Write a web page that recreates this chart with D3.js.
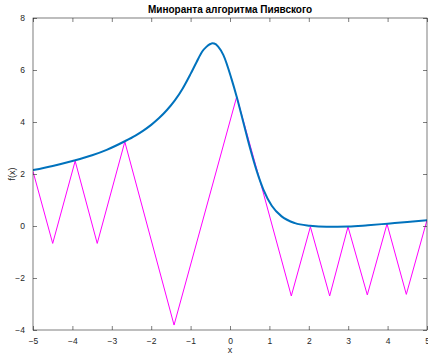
<!DOCTYPE html>
<html>
<head>
<meta charset="utf-8">
<script src="https://cdn.jsdelivr.net/npm/d3@7"></script>
<style>
  body { margin: 0; background: #fff; }
  svg { font-family: Helvetica, "Liberation Sans", Arial, sans-serif; }
</style>
</head>
<body>
<div id="chart"></div>
<script>
// function f(x)
const curveX = [-5, -4.5, -4, -3.5, -3.13, -2.67, -2.4, -2.2, -2.0, -1.8, -1.6, -1.4, -1.2, -1.0, -0.85, -0.7, -0.6, -0.5, -0.45, -0.4, -0.3, -0.17, 0.04, 0.17, 0.34, 0.51, 0.68, 0.845, 1.06, 1.31, 1.65, 2.03, 2.45, 3.0, 3.5, 4.0, 4.5, 5.0];
const curveY = [2.15, 2.31, 2.5, 2.72, 2.93, 3.26, 3.48, 3.67, 3.89, 4.15, 4.46, 4.83, 5.29, 5.85, 6.3, 6.72, 6.89, 7.0, 7.03, 7.02, 6.9, 6.58, 5.65, 4.97, 3.98, 2.99, 2.11, 1.41, 0.78, 0.37, 0.11, 0.01, -0.03, -0.02, 0.03, 0.09, 0.15, 0.22];

// Piyavsky minorant vertices
const minorX = [-5, -4.5, -3.93, -3.37, -2.67, -1.42, 0.17, 0.76, 1.556, 2.04, 2.53, 2.995, 3.485, 3.985, 4.475, 5];
const minorY = [2.1, -0.67, 2.5, -0.67, 3.24, -3.81, 4.97, 1.75, -2.69, -0.03, -2.69, -0.03, -2.65, 0.08, -2.63, 0.23];

const xTicks = [-5, -4, -3, -2, -1, 0, 1, 2, 3, 4, 5];
const yTicks = [-4, -2, 0, 2, 4, 6, 8];

const W = 428, H = 355;
const margin = {top: 18, right: 1, bottom: 25, left: 33};
const width = W - margin.left - margin.right;
const height = H - margin.top - margin.bottom;
const axisColor = "#262626";

const svg = d3.select("#chart").append("svg")
    .attr("width", W)
    .attr("height", H);

const g = svg.append("g")
    .attr("transform", "translate(" + margin.left + "," + margin.top + ")");

const x = d3.scaleLinear().domain([-5, 5]).range([0, width]);
const y = d3.scaleLinear().domain([-4, 8]).range([height, 0]);

// clip to plot area
svg.append("defs").append("clipPath").attr("id", "clip")
    .append("rect").attr("x", 0).attr("y", 0).attr("width", width).attr("height", height);

const plot = g.append("g").attr("clip-path", "url(#clip)");

// minorant
const minorData = minorX.map((d, i) => [d, minorY[i]]);
plot.append("path")
    .datum(minorData)
    .attr("fill", "none")
    .attr("stroke", "#ff00ff")
    .attr("stroke-width", 1)
    .attr("d", d3.line().x(d => x(d[0])).y(d => y(d[1])));

// function curve
const curveData = curveX.map((d, i) => [d, curveY[i]]);
plot.append("path")
    .datum(curveData)
    .attr("fill", "none")
    .attr("stroke", "#0072bd")
    .attr("stroke-width", 2)
    .attr("d", d3.line().curve(d3.curveMonotoneX).x(d => x(d[0])).y(d => y(d[1])));

// axes: ticks inward, box on
function styleAxis(sel) {
    sel.select(".domain").remove();
    sel.selectAll(".tick line").attr("stroke", axisColor).attr("stroke-width", 0.6);
    sel.selectAll(".tick text").attr("fill", axisColor).attr("font-size", 8.5);
}

g.append("g")
    .attr("transform", "translate(0," + height + ")")
    .call(d3.axisBottom(x).tickValues(xTicks).tickSizeInner(-4).tickPadding(8).tickFormat(d3.format("d")))
    .call(styleAxis);
g.append("g")
    .call(d3.axisTop(x).tickValues(xTicks).tickSizeInner(-4).tickFormat(""))
    .call(styleAxis);
g.append("g")
    .call(d3.axisLeft(y).tickValues(yTicks).tickSizeInner(-4).tickPadding(8).tickFormat(d3.format("d")))
    .call(styleAxis);
g.append("g")
    .attr("transform", "translate(" + width + ",0)")
    .call(d3.axisRight(y).tickValues(yTicks).tickSizeInner(-4).tickFormat(""))
    .call(styleAxis);

g.append("rect")
    .attr("width", width)
    .attr("height", height)
    .attr("fill", "none")
    .attr("stroke", axisColor)
    .attr("stroke-width", 0.6);

// labels
svg.append("text")
    .attr("x", margin.left + width / 2)
    .attr("y", 13)
    .attr("text-anchor", "middle")
    .attr("font-size", 10)
    .attr("font-weight", "bold")
    .attr("fill", "#000")
    .text("Миноранта алгоритма Пиявского");

svg.append("text")
    .attr("x", margin.left + width / 2)
    .attr("y", 353)
    .attr("text-anchor", "middle")
    .attr("font-size", 9)
    .attr("fill", axisColor)
    .text("x");

svg.append("text")
    .attr("transform", "translate(15," + (margin.top + height / 2) + ") rotate(-90)")
    .attr("text-anchor", "middle")
    .attr("font-size", 9)
    .attr("fill", axisColor)
    .text("f(x)");
</script>
</body>
</html>
